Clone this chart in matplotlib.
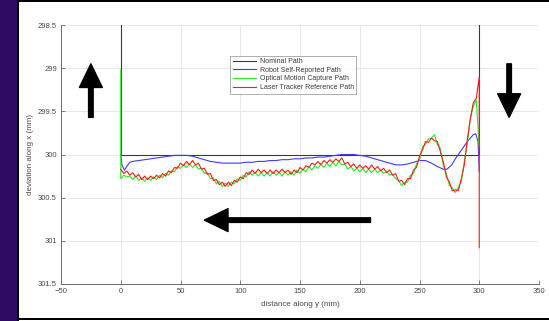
import numpy as np
import matplotlib
matplotlib.use('Agg')
import matplotlib.pyplot as plt
from matplotlib.patches import Rectangle

plt.rcParams['font.family'] = ['Liberation Sans', 'DejaVu Sans']

# nominal square path (mm)
nominal_x = [0, 0, 300, 300]
nominal_y = [298.5, 300, 300, 298.5]

# robot self-reported path
robot_x = [0, 1, 3, 5, 7.5, 10, 15, 20, 25, 30, 35, 40, 45, 50, 55, 60, 65, 70, 75,
           80, 85, 90, 95, 100, 105, 110, 115, 120, 125, 130, 135, 140, 145, 150,
           155, 160, 165, 170, 175, 180, 185, 190, 195, 200, 205, 210, 215, 220,
           225, 230, 235, 240, 245, 250, 255, 260, 265, 270, 273, 277, 280, 285,
           290, 295, 297, 299, 300]
robot_y = [300.0, 300.12, 300.18, 300.14, 300.09, 300.08, 300.07, 300.06, 300.05,
           300.04, 300.03, 300.02, 300.01, 300.01, 300.01, 300.02, 300.04, 300.06,
           300.08, 300.09, 300.1, 300.1, 300.1, 300.1, 300.09, 300.09, 300.08,
           300.08, 300.07, 300.07, 300.06, 300.06, 300.05, 300.05, 300.04, 300.04,
           300.03, 300.03, 300.02, 300.01, 300.0, 300.0, 300.0, 300.01, 300.02,
           300.04, 300.06, 300.08, 300.1, 300.12, 300.12, 300.11, 300.09, 300.07,
           300.07, 300.1, 300.14, 300.17, 300.17, 300.12, 300.05, 299.95, 299.85,
           299.77, 299.76, 299.85, 300.2]

# optical motion capture and laser tracker, sampled every 2.5 mm from 0 to 300
step = 2.5
optical_y = [300.28, 300.24, 300.26, 300.25, 300.29, 300.25, 300.30, 300.27, 300.31, 300.27,
             300.30, 300.26, 300.29, 300.24, 300.27, 300.22, 300.24, 300.19, 300.20, 300.14,
             300.16, 300.12, 300.15, 300.11, 300.15, 300.12, 300.17, 300.16, 300.22, 300.21,
             300.28, 300.27, 300.34, 300.31, 300.37, 300.33, 300.37, 300.32, 300.34, 300.28,
             300.30, 300.24, 300.26, 300.20, 300.24, 300.21, 300.25, 300.21, 300.25, 300.21,
             300.25, 300.20, 300.24, 300.21, 300.25, 300.20, 300.24, 300.20, 300.24, 300.18,
             300.22, 300.17, 300.20, 300.14, 300.18, 300.13, 300.16, 300.11, 300.15, 300.10,
             300.14, 300.09, 300.13, 300.08, 300.12, 300.11, 300.17, 300.14, 300.19, 300.16,
             300.20, 300.16, 300.21, 300.17, 300.21, 300.17, 300.21, 300.18, 300.22, 300.20,
             300.24, 300.23, 300.28, 300.30, 300.36, 300.32, 300.32, 300.24, 300.22, 300.11,
             300.06, 299.91, 299.88, 299.82, 299.81, 299.77, 299.89, 299.93, 300.13, 300.22,
             300.36, 300.39, 300.44, 300.38, 300.31, 300.08, 299.87, 299.59, 299.44, 299.37,
             299.90]
optical_start = [299.02]

laser_y = [300.17, 300.22, 300.19, 300.24, 300.21, 300.26, 300.23, 300.29, 300.25, 300.29,
           300.25, 300.28, 300.24, 300.27, 300.22, 300.25, 300.19, 300.21, 300.15, 300.16,
           300.10, 300.13, 300.08, 300.12, 300.07, 300.12, 300.10, 300.17, 300.16, 300.23,
           300.22, 300.30, 300.29, 300.35, 300.32, 300.37, 300.32, 300.36, 300.30, 300.32,
           300.26, 300.28, 300.21, 300.23, 300.18, 300.22, 300.17, 300.21, 300.18, 300.22,
           300.18, 300.22, 300.18, 300.21, 300.17, 300.21, 300.18, 300.23, 300.18, 300.21,
           300.15, 300.18, 300.13, 300.15, 300.10, 300.12, 300.08, 300.12, 300.07, 300.10,
           300.06, 300.09, 300.05, 300.08, 300.04, 300.11, 300.09, 300.14, 300.11, 300.16,
           300.12, 300.16, 300.13, 300.17, 300.12, 300.17, 300.14, 300.19, 300.16, 300.21,
           300.18, 300.24, 300.22, 300.31, 300.30, 300.35, 300.28, 300.28, 300.18, 300.15,
           300.02, 299.95, 299.85, 299.86, 299.81, 299.84, 299.85, 299.97, 300.09, 300.26,
           300.32, 300.42, 300.41, 300.42, 300.28, 300.12, 299.83, 299.59, 299.40, 299.35,
           299.10]
laser_end = [301.08]

fig = plt.figure(figsize=(5.49, 3.21), dpi=100)

# dark frame around the slide
fig.patches.append(Rectangle((0, 0), 17 / 549, 1, transform=fig.transFigure,
                             facecolor='#2f0a63', edgecolor='none', zorder=-5))
fig.patches.append(Rectangle((17 / 549, 0), 2 / 549, 1, transform=fig.transFigure,
                             facecolor='black', edgecolor='none', zorder=-5))
fig.patches.append(Rectangle((17 / 549, 1 - 2 / 321), 1, 2 / 321, transform=fig.transFigure,
                             facecolor='black', edgecolor='none', zorder=-5))
fig.patches.append(Rectangle((17 / 549, 1 / 321), 1, 2.5 / 321, transform=fig.transFigure,
                             facecolor='black', edgecolor='none', zorder=-5))

ax = fig.add_axes([61 / 549, 37 / 321, 478 / 549, 259 / 321])

n = len(laser_y)
grid_x = np.arange(n) * step
opt_x = np.concatenate([[0.0], grid_x])
opt_y = np.concatenate([optical_start, optical_y])
las_x = np.concatenate([grid_x, [grid_x[-1]]])
las_y = np.concatenate([laser_y, laser_end])

ax.plot(nominal_x, nominal_y, color='#3a3a3a', lw=0.8, label='Nominal Path')
ax.plot(robot_x, robot_y, color='#3c3cff', lw=0.8, label='Robot Self-Reported Path')
ax.plot(opt_x, opt_y, color='#22ee22', lw=0.8, label='Optical Motion Capture Path')
ax.plot(las_x, las_y, color='#ff1a1a', lw=0.8, label='Laser Tracker Reference Path')

# direction of travel
arrow = dict(arrowstyle='simple,head_length=1.7,head_width=1.65,tail_width=0.33',
             mutation_scale=10, color='black', shrinkA=0, shrinkB=0)
ax.annotate('', xy=(-25, 298.95), xytext=(-25, 299.57), arrowprops=arrow)
ax.annotate('', xy=(325, 299.57), xytext=(325, 298.95), arrowprops=arrow)
ax.annotate('', xy=(70, 300.76), xytext=(209, 300.76), arrowprops=arrow)

ax.set_xlim(-50, 350)
ax.set_ylim(301.5, 298.5)
ax.set_xticks(np.arange(-50, 351, 50))
yt = [298.5, 299, 299.5, 300, 300.5, 301, 301.5]
ax.set_yticks(yt)
ax.set_yticklabels(['298.5', '299', '299.5', '300', '300.5', '301', '301.5'])

ax.grid(True, color='#e4e4e4', lw=0.6)
ax.set_axisbelow(True)
for side in ['top', 'right']:
    ax.spines[side].set_visible(False)
for side in ['left', 'bottom']:
    ax.spines[side].set_color('#6a6a6a')
    ax.spines[side].set_linewidth(0.7)
ax.tick_params(direction='in', length=3, width=0.6, colors='#6a6a6a',
               labelsize=5.5, labelcolor='#4a4a4a', pad=3)

ax.set_xlabel('distance along y (mm)', fontsize=5.8, color='#4a4a4a', labelpad=4)
ax.set_ylabel('deviation along x (mm)', fontsize=5.8, color='#4a4a4a', labelpad=3)

leg = ax.legend(loc='upper left', bbox_to_anchor=(0.354, 0.882), fontsize=5,
                handlelength=3.4, frameon=True, fancybox=False, borderpad=0.35,
                labelspacing=0.25, handletextpad=0.5, borderaxespad=0)
leg.get_frame().set_edgecolor('#8a8a8a')
leg.get_frame().set_linewidth(0.6)
for t in leg.get_texts():
    t.set_color('#3a3a3a')

fig.savefig('out.png', dpi=100)
